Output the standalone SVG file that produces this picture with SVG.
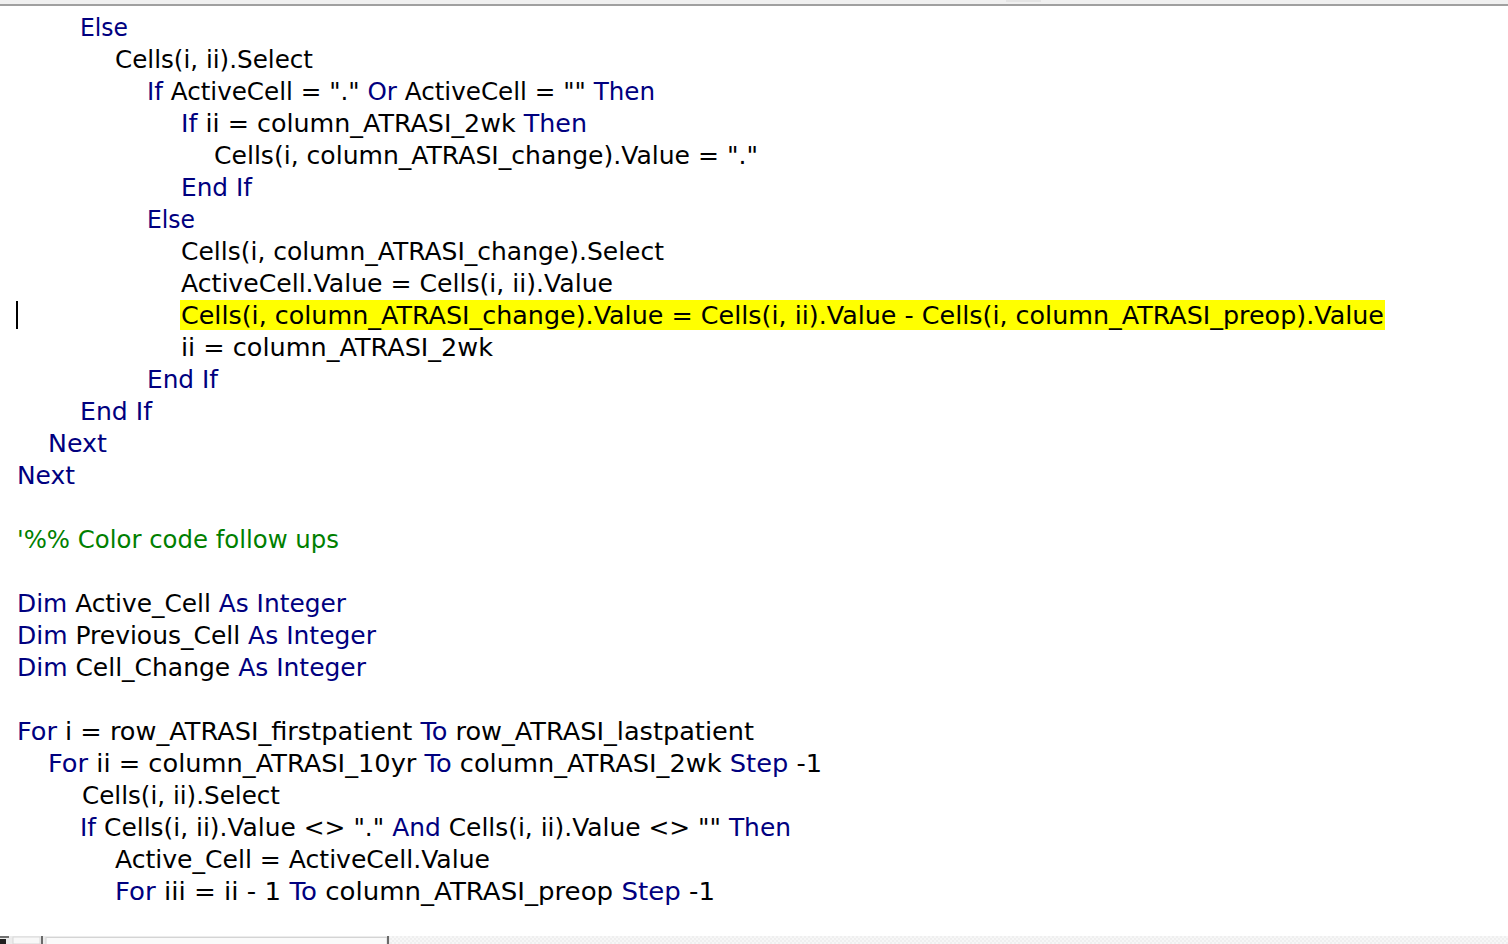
<svg xmlns="http://www.w3.org/2000/svg" width="1508" height="944" viewBox="0 0 1508 944">
<defs>
<style>
text{font-family:"DejaVu Sans","Liberation Sans",sans-serif;font-size:25px;fill:#000000}
.k{fill:#00007f}
.c{fill:#007f00}
</style>
<pattern id="hatch" width="4" height="4" patternUnits="userSpaceOnUse">
<rect width="4" height="4" fill="#f7f7f7"/>
<rect width="2" height="2" fill="#efefef"/>
<rect x="2" y="2" width="2" height="2" fill="#efefef"/>
</pattern>
</defs>
<rect width="1508" height="944" fill="#ffffff"/>
<g id="topbar">
<rect x="0" y="0" width="1508" height="4" fill="#f0f0f0"/>
<rect x="1006" y="0" width="35" height="2" fill="#e4e4e4"/>
<rect x="0" y="4" width="1508" height="2" fill="#a0a0a0"/>
</g>
<g id="highlight">
<rect x="180" y="300" width="1205" height="30" fill="#ffff00"/>
<rect x="16" y="301" width="2" height="28" fill="#000000"/>
</g>
<g id="code">
<text x="80" y="36" textLength="48" lengthAdjust="spacingAndGlyphs" class="k">Else</text>
<text x="115" y="68" textLength="198" lengthAdjust="spacingAndGlyphs">Cells(i, ii).Select</text>
<text x="147" y="100" textLength="508" lengthAdjust="spacingAndGlyphs"><tspan class="k">If</tspan> ActiveCell = "." <tspan class="k">Or</tspan> ActiveCell = "" <tspan class="k">Then</tspan></text>
<text x="181" y="132" textLength="406" lengthAdjust="spacingAndGlyphs"><tspan class="k">If</tspan> ii = column_ATRASI_2wk <tspan class="k">Then</tspan></text>
<text x="214" y="164" textLength="544" lengthAdjust="spacingAndGlyphs">Cells(i, column_ATRASI_change).Value = "."</text>
<text x="181" y="196" textLength="71" lengthAdjust="spacingAndGlyphs" class="k">End If</text>
<text x="147" y="228" textLength="48" lengthAdjust="spacingAndGlyphs" class="k">Else</text>
<text x="181" y="260" textLength="483" lengthAdjust="spacingAndGlyphs">Cells(i, column_ATRASI_change).Select</text>
<text x="181" y="292" textLength="432" lengthAdjust="spacingAndGlyphs">ActiveCell.Value = Cells(i, ii).Value</text>
<text x="181" y="324" textLength="1203" lengthAdjust="spacingAndGlyphs">Cells(i, column_ATRASI_change).Value = Cells(i, ii).Value - Cells(i, column_ATRASI_preop).Value</text>
<text x="181" y="356" textLength="312" lengthAdjust="spacingAndGlyphs">ii = column_ATRASI_2wk</text>
<text x="147" y="388" textLength="71" lengthAdjust="spacingAndGlyphs" class="k">End If</text>
<text x="80" y="420" textLength="72" lengthAdjust="spacingAndGlyphs" class="k">End If</text>
<text x="48" y="452" textLength="59" lengthAdjust="spacingAndGlyphs" class="k">Next</text>
<text x="17" y="484" textLength="58" lengthAdjust="spacingAndGlyphs" class="k">Next</text>
<text x="17" y="548" textLength="322" lengthAdjust="spacingAndGlyphs" class="c">'%% Color code follow ups</text>
<text x="17" y="612" textLength="329" lengthAdjust="spacingAndGlyphs"><tspan class="k">Dim</tspan> Active_Cell <tspan class="k">As Integer</tspan></text>
<text x="17" y="644" textLength="359" lengthAdjust="spacingAndGlyphs"><tspan class="k">Dim</tspan> Previous_Cell <tspan class="k">As Integer</tspan></text>
<text x="17" y="676" textLength="349" lengthAdjust="spacingAndGlyphs"><tspan class="k">Dim</tspan> Cell_Change <tspan class="k">As Integer</tspan></text>
<text x="17" y="740" textLength="737" lengthAdjust="spacingAndGlyphs"><tspan class="k">For</tspan> i = row_ATRASI_firstpatient <tspan class="k">To</tspan> row_ATRASI_lastpatient</text>
<text x="48" y="772" textLength="774" lengthAdjust="spacingAndGlyphs"><tspan class="k">For</tspan> ii = column_ATRASI_10yr <tspan class="k">To</tspan> column_ATRASI_2wk <tspan class="k">Step</tspan> -1</text>
<text x="82" y="804" textLength="198" lengthAdjust="spacingAndGlyphs">Cells(i, ii).Select</text>
<text x="80" y="836" textLength="711" lengthAdjust="spacingAndGlyphs"><tspan class="k">If</tspan> Cells(i, ii).Value &lt;&gt; "." <tspan class="k">And</tspan> Cells(i, ii).Value &lt;&gt; "" <tspan class="k">Then</tspan></text>
<text x="115" y="868" textLength="375" lengthAdjust="spacingAndGlyphs">Active_Cell = ActiveCell.Value</text>
<text x="115" y="900" textLength="600" lengthAdjust="spacingAndGlyphs"><tspan class="k">For</tspan> iii = ii - 1 <tspan class="k">To</tspan> column_ATRASI_preop <tspan class="k">Step</tspan> -1</text>
</g>
<g id="scrollbar">
<rect x="0" y="936" width="1508" height="8" fill="url(#hatch)"/>
<rect x="0" y="936" width="390" height="8" fill="#ececec"/>
<rect x="0" y="936" width="9" height="2" fill="#707070"/>
<rect x="0" y="939" width="6" height="5" fill="#202020"/>
<rect x="13" y="937" width="27" height="7" fill="#f8f8f8" stroke="#d8d8d8" stroke-width="1"/>
<rect x="41" y="936" width="2" height="8" fill="#6a6a6a"/>
<rect x="46" y="937.5" width="341" height="7" fill="#fafafa" stroke="#d4d4d4" stroke-width="1"/>
<rect x="387" y="936" width="2" height="8" fill="#6a6a6a"/>
</g>
</svg>
